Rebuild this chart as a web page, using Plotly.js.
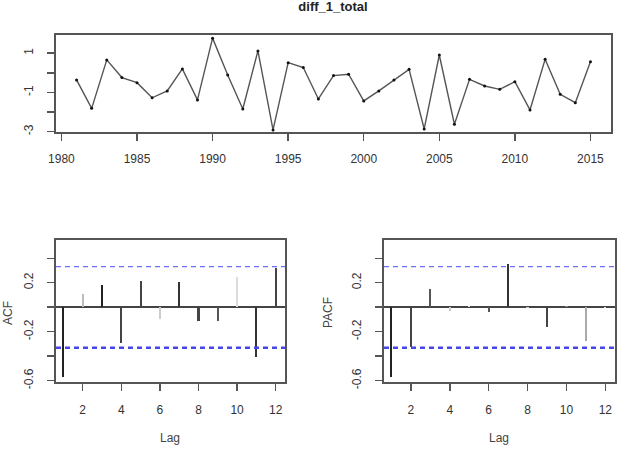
<!DOCTYPE html>
<html>
<head>
<meta charset="utf-8">
<script src="https://cdn.plot.ly/plotly-3.0.1.min.js"></script>
<style>html,body{margin:0;padding:0;background:#fff;}#chart{width:626px;height:453px;}</style>
</head>
<body>
<div id="chart"></div>
<script>
// ---- data ----
const years = [1981,1982,1983,1984,1985,1986,1987,1988,1989,1990,1991,1992,1993,1994,1995,1996,1997,1998,
               1999,2000,2001,2002,2003,2004,2005,2006,2007,2008,2009,2010,2011,2012,2013,2014,2015];
const diffTotal = [-0.36,-1.81,0.66,-0.24,-0.5,-1.27,-0.92,0.2,-1.38,1.77,-0.11,-1.84,1.12,-2.91,0.52,0.27,-1.33,-0.14,
                   -0.07,-1.43,-0.92,-0.36,0.18,-2.86,0.91,-2.62,-0.33,-0.67,-0.84,-0.45,-1.89,0.69,-1.09,-1.52,0.57];
const lags = [1,2,3,4,5,6,7,8,9,10,11,12];
const acfVals = [-0.568,0.11,0.184,-0.296,0.214,-0.096,0.206,-0.11,-0.11,0.247,-0.406,0.324];
const pacfVals = [-0.568,-0.324,0.151,-0.03,0.01,-0.04,0.349,-0.01,-0.159,0.014,-0.274,-0.005];
const clim = 0.331;
const yearTicks = [1980,1985,1990,1995,2000,2005,2010,2015];
const lagTicks = [2,4,6,8,10,12];
const topYTicks = [-3,-2,-1,0,1];
const topYText = ['-3','','-1','','1'];
const corrTicks = [-0.6,-0.4,-0.2,0,0.2,0.4];
const corrText = ['-0.6','','-0.2','','0.2',''];

// ---- styles ----
const acfColors = ['#222','#bbb','#222','#444','#444','#ccc','#333','#444','#555','#ddd','#333','#444'];
const pacfColors = ['#222','#444','#555','#ccc','#ddd','#555','#333','#ccc','#444','#888','#aaa','#ddd'];
const W = 626, H = 453;
const fx = p => p / W, fy = p => 1 - p / H;
const tickFont = {family: 'Liberation Sans, Arial, sans-serif', size: 12, color: '#333'};

const traces = [
  {type: 'scatter', mode: 'lines+markers', x: years, y: diffTotal, xaxis: 'x', yaxis: 'y',
   line: {color: '#555', width: 1.4}, marker: {color: '#111', size: 3}, hoverinfo: 'x+y'},
  {type: 'bar', x: lags, y: acfVals, xaxis: 'x2', yaxis: 'y2', width: 0.11,
   marker: {color: acfColors, line: {width: 0}}},
  {type: 'bar', x: lags, y: pacfVals, xaxis: 'x3', yaxis: 'y3', width: 0.11,
   marker: {color: pacfColors, line: {width: 0}}}
];

const axBase = {showgrid: false, showline: true, mirror: true, linecolor: '#555', linewidth: 2,
  ticks: 'outside', ticklen: 7, tickcolor: '#555', tickwidth: 1.5, tickfont: tickFont, zeroline: false,
  fixedrange: true};

const yCorr = (dom, anchor) => Object.assign({}, axBase, {domain: dom, anchor: anchor, range: [-0.608, 0.549],
  tickmode: 'array', tickvals: corrTicks, ticktext: corrText, tickangle: -90, ticklabelstandoff: 9,
  zeroline: true, zerolinecolor: '#444', zerolinewidth: 1.6});
const xLag = (dom, anchor) => Object.assign({}, axBase, {domain: dom, anchor: anchor, range: [0.62, 12.48],
  tickmode: 'array', tickvals: lagTicks, ticklabelstandoff: 9});

const corrDom = [fy(381.7), fy(240)];

function climShapes(xr, yr) {
  return [
    {type: 'line', xref: xr + ' domain', yref: yr, x0: 0, x1: 1, y0: clim, y1: clim,
     line: {color: 'rgb(110,110,245)', width: 1.2, dash: '5px,4px'}},
    {type: 'line', xref: xr + ' domain', yref: yr, x0: 0, x1: 1, y0: -clim, y1: -clim,
     line: {color: 'rgb(70,70,235)', width: 2.4, dash: '5px,4px'}}
  ];
}

const labelFont = {family: 'Liberation Sans, Arial, sans-serif', size: 12, color: '#444'};

const layout = {
  width: W, height: H, margin: {l: 0, r: 0, t: 0, b: 0},
  paper_bgcolor: '#fff', plot_bgcolor: '#fff', showlegend: false, bargap: 0,
  title: {text: '<b>diff_1_total</b>', x: fx(333), xanchor: 'center', xref: 'paper',
          y: fy(6), yanchor: 'middle', yref: 'container',
          font: {family: 'Liberation Sans, Arial, sans-serif', size: 13, color: '#222'}},
  xaxis: Object.assign({}, axBase, {domain: [fx(56), fx(611)], anchor: 'y', range: [1979.64, 2016.36],
    tickmode: 'array', tickvals: yearTicks, ticklabelstandoff: 7}),
  yaxis: Object.assign({}, axBase, {domain: [fy(132.3), fy(35)], anchor: 'x', range: [-3.03, 1.93],
    tickmode: 'array', tickvals: topYTicks, ticktext: topYText, tickangle: -90, ticklabelstandoff: 9}),
  xaxis2: xLag([fx(56), fx(285)], 'y2'),
  yaxis2: yCorr(corrDom, 'x2'),
  xaxis3: xLag([fx(384), fx(614.7)], 'y3'),
  yaxis3: yCorr(corrDom, 'x3'),
  shapes: climShapes('x2', 'y2').concat(climShapes('x3', 'y3')),
  annotations: [
    {text: 'Lag', xref: 'paper', yref: 'paper', x: fx(170), y: fy(438), xanchor: 'center', yanchor: 'middle', showarrow: false, font: labelFont},
    {text: 'Lag', xref: 'paper', yref: 'paper', x: fx(499), y: fy(438), xanchor: 'center', yanchor: 'middle', showarrow: false, font: labelFont},
    {text: 'ACF', xref: 'paper', yref: 'paper', x: fx(8), y: fy(313), xanchor: 'center', yanchor: 'middle', textangle: -90, showarrow: false, font: labelFont},
    {text: 'PACF', xref: 'paper', yref: 'paper', x: fx(328), y: fy(313), xanchor: 'center', yanchor: 'middle', textangle: -90, showarrow: false, font: labelFont}
  ]
};

Plotly.newPlot('chart', traces, layout, {displayModeBar: false, staticPlot: true});
</script>
</body>
</html>
